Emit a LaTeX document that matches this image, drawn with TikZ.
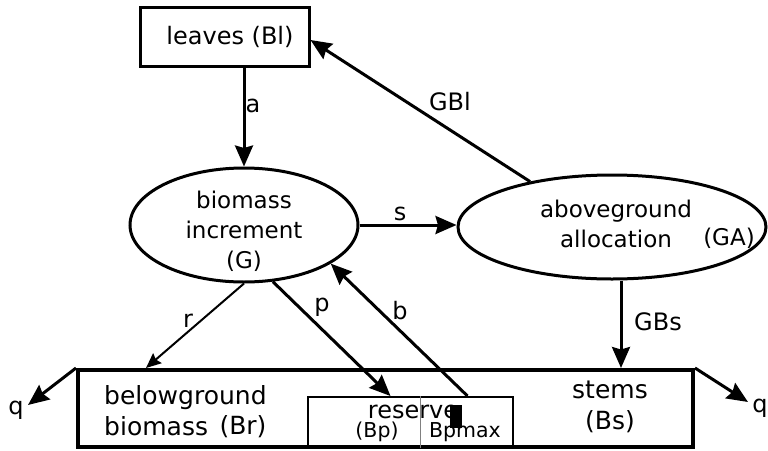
\documentclass[tikz,border=0pt]{standalone}
\usepackage{fontspec}
\setmainfont{DejaVu Sans}
\usetikzlibrary{shapes.geometric,arrows.meta,calc}
\begin{document}
\begin{tikzpicture}[x=1pt,y=-1pt,
  arr/.style={-{Stealth[length=21pt,width=18pt,inset=2.5pt]}, line width=3pt},
  thinarr/.style={-{Stealth[length=15pt,width=13pt,inset=2pt]}, line width=2pt},
  ell/.style={ellipse, draw, line width=3pt, inner sep=0pt},
  boxsty/.style={rectangle, draw, inner sep=0pt},
  lbl/.style={font=\fontsize{24}{28}\selectfont, inner sep=0pt},
  etxt/.style={font=\fontsize{23}{30}\selectfont, align=center, inner sep=0pt},
  btxt/.style={font=\fontsize{25}{31}\selectfont, inner sep=0pt},
  stxt/.style={font=\fontsize{20.5}{24}\selectfont, inner sep=0pt}]
\useasboundingbox[fill=white] (0,0) rectangle (768,450);

% boxes and ellipses
\node[boxsty, line width=3pt, minimum width=169, minimum height=59] (leaves) at (224.5,36.5) {};
\node[lbl] (leavestxt) at (230,37) {leaves (Bl)};

\node[ell, minimum width=228, minimum height=114] (G) at (244,225) {};
\node[etxt] (Gtxt) at (244,231) {biomass\\increment\\(G)};

\node[ell, minimum width=308, minimum height=104] (GA) at (612,227) {};
\node[etxt] (GAtxt) at (616,224) {aboveground\\allocation};
\node[etxt] (GAabbr) at (729,238) {(GA)};

\node[boxsty, line width=4pt, minimum width=615, minimum height=77] (big) at (385.5,408.5) {};
\node[boxsty, line width=2pt, minimum width=205, minimum height=50] (reserve) at (410.5,422) {};
\draw[gray, line width=1pt] ([xshift=9.5pt]reserve.north) -- ([xshift=9.5pt]reserve.south);

\node[btxt, align=left, anchor=west] (brtxt) at (104,411) {belowground\\biomass};
\node[btxt] (brabbr) at (243,427) {(Br)};
\node[btxt, align=center] (bstxt) at (610,407) {stems\\(Bs)};
\node[lbl] (restxt) at (413,412) {reserve};
\node[stxt] (bptxt) at (377,432) {(Bp)};
\node[stxt] (bpmaxtxt) at (465,432) {Bpmax};
\node[fill=black, minimum width=12, minimum height=23, inner sep=0pt] (bpbar) at (456,416.5) {};

% connectors
\draw[arr] (G.north |- leaves.south) -- (G.north);
\draw[arr] (GA.151) -- ([yshift=-3.5pt]leaves.east);
\draw[arr] (G.east) -- (G.east -| GA.west);
\draw[thinarr] (G.south) -- ([xshift=70pt]big.north west);
\draw[arr] (G.-63) -- ([xshift=-20pt]reserve.north);
\draw[arr] ([xshift=57pt]reserve.north) -- (G.-24);
\draw[arr] ([xshift=9pt]GA.south) -- ([xshift=9pt]GA.south |- big.north);

\node[lbl] (la) at (253,106) {a};
\node[lbl] (lgbl) at (450,102) {GBl};
\node[lbl] (ls) at (400,214) {s};
\node[lbl] (lr) at (188,321) {r};
\node[lbl] (lp) at (322,307) {p};
\node[lbl] (lb) at (400,311) {b};
\node[lbl] (lgbs) at (658,322) {GBs};

\coordinate (qLtip) at (28,405);
\coordinate (qRtip) at (748,402);
\draw[arr] (big.north west) -- (qLtip);
\draw[arr] (big.north east) -- (qRtip);
\node[lbl] (qL) at (16,410) {q};
\node[lbl] (qR) at (760,408) {q};
\end{tikzpicture}
\end{document}
